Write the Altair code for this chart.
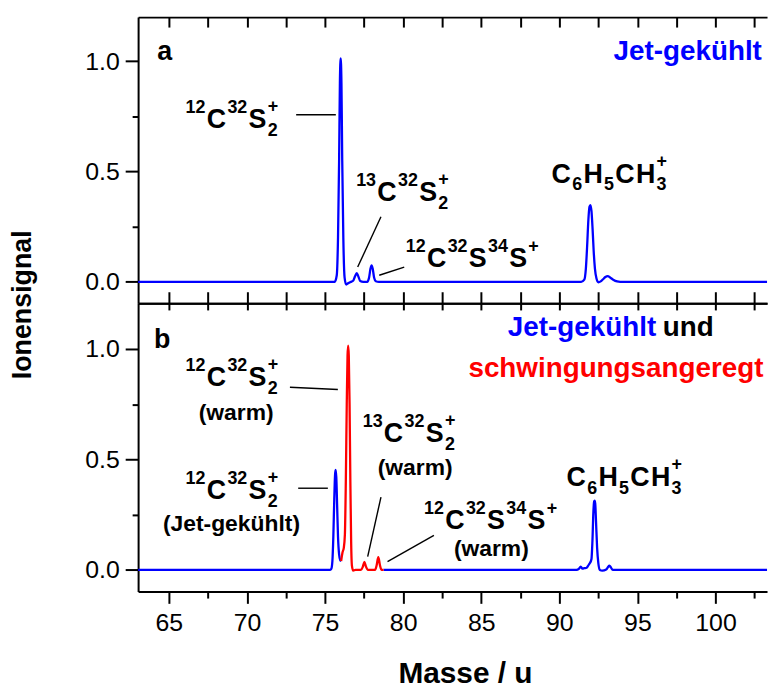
import altair as alt
import pandas as pd

FONT = "Liberation Sans"
BLUE = "#0000ff"
RED = "#ff0000"

# ---------------- data ----------------
# panel a : jet-cooled spectrum (mass / u, ion signal)
a_mass = [63.03, 70.0, 75.0, 75.62, 75.75, 75.83, 75.9, 75.95, 76.0, 76.05,
          76.1, 76.17, 76.25, 76.35, 76.5, 76.65, 76.8, 76.92, 77.03, 77.13,
          77.25, 77.45, 77.7, 77.82, 77.91, 77.98, 78.05, 78.14, 78.25, 78.45,
          82.0, 86.0, 90.0, 91.4, 91.6, 91.7, 91.78, 91.86, 91.93, 91.99,
          92.06, 92.13, 92.2, 92.28, 92.38, 92.5, 92.65, 92.8, 92.95, 93.1,
          93.25, 93.45, 93.7, 93.9, 97.0, 100.0, 103.3]
a_signal = [0.0, 0.0, 0.0, 0.0, 0.03, 0.2, 0.55, 0.9, 1.012, 0.9,
            0.55, 0.2, 0.02, -0.012, -0.005, 0.0, 0.005, 0.025, 0.04, 0.025,
            0.004, 0.0, 0.0, 0.02, 0.06, 0.075, 0.06, 0.02, 0.003, 0.0,
            0.0, 0.0, 0.0, 0.0, 0.01, 0.06, 0.16, 0.28, 0.34, 0.348,
            0.32, 0.24, 0.14, 0.06, 0.015, -0.002, 0.002, 0.012, 0.022, 0.026,
            0.02, 0.01, 0.002, 0.0, 0.0, 0.0, 0.0]

# panel b : jet-cooled part before the warm peaks
b_jet1_mass = [63.03, 70.0, 75.0, 75.3, 75.4, 75.47, 75.53, 75.59, 75.64, 75.675,
               75.72, 75.77, 75.83, 75.9, 75.97, 76.03]
b_jet1_signal = [0.0, 0.0, 0.0, 0.0, 0.005, 0.04, 0.15, 0.32, 0.43, 0.453,
                 0.42, 0.3, 0.15, 0.07, 0.045, 0.04]
# panel b : vibrationally excited (warm) part
b_warm_mass = [76.03, 76.12, 76.2, 76.27, 76.33, 76.39, 76.44, 76.48, 76.52, 76.57,
               76.62, 76.67, 76.72, 76.8, 76.95, 77.3, 77.42, 77.52, 77.62, 77.75,
               78.2, 78.3, 78.41, 78.52, 78.62, 78.75]
b_warm_signal = [0.04, 0.08, 0.1, 0.16, 0.4, 0.75, 0.97, 1.015, 0.97, 0.75,
                 0.4, 0.13, 0.02, -0.003, 0.0, 0.0, 0.015, 0.037, 0.015, 0.0,
                 0.0, 0.02, 0.058, 0.02, 0.0, 0.0]
# panel b : jet-cooled part after the warm peaks
b_jet2_mass = [78.75, 82.0, 86.0, 91.1, 91.25, 91.37, 91.48, 91.6, 91.75, 91.85,
               91.95, 92.06, 92.12, 92.18, 92.23, 92.26, 92.3, 92.35, 92.42, 92.5,
               92.6, 92.75, 93.0, 93.12, 93.21, 93.3, 93.42, 97.0, 100.0, 103.3]
b_jet2_signal = [0.0, 0.0, 0.0, 0.0, 0.005, 0.015, 0.006, 0.008, 0.01, 0.02,
                 0.03, 0.05, 0.13, 0.26, 0.31, 0.314, 0.3, 0.22, 0.1, 0.03,
                 0.0, -0.003, 0.002, 0.013, 0.02, 0.012, 0.0, 0.0, 0.0, 0.0]

x_major = [65, 70, 75, 80, 85, 90, 95, 100]
x_minor = [67.5, 72.5, 77.5, 82.5, 87.5, 92.5, 97.5, 102.5]
x_all = sorted(x_major + x_minor)
y_major = [0.0, 0.5, 1.0]
y_minor = [0.25, 0.75]

# ---------------- layout ----------------
X_DOMAIN = [63.03, 103.3]
Y_DOMAIN_A = [-0.097, 1.199]
Y_DOMAIN_B = [-0.097, 1.207]
W_PLOT = 633
H_A, H_B = 288, 290
xs = alt.Scale(domain=X_DOMAIN, nice=False, zero=False)
ys_a = alt.Scale(domain=Y_DOMAIN_A, nice=False, zero=False)
ys_b = alt.Scale(domain=Y_DOMAIN_B, nice=False, zero=False)
X_PER_PX = (X_DOMAIN[1] - X_DOMAIN[0]) / W_PLOT

GLYPH_W = {c: 0.556 for c in "0123456789"}
GLYPH_W.update({"C": 0.722, "S": 0.667, "H": 0.722, "+": 0.584})
MAIN, SMALL, SUP_DY, SUB_DY, GAP = 27, 18, 15, -8, 1.3   # dy in px, upward positive


def formula(x, y, segs):
    """Split a chemical formula into pieces with pixel offsets from its anchor."""
    rows, cur, sub_start = [], 0.0, 0.0
    for t, kind in segs:
        size = MAIN if kind == "n" else SMALL
        dy = {"n": 0, "sup": SUP_DY, "sub": SUB_DY, "stack": SUP_DY + 1}[kind]
        w = sum(GLYPH_W[c] for c in t) * size
        if kind == "stack":
            rows.append(dict(x=x, y=y, dx=sub_start, dy=dy, size=size, text=t))
            cur = max(cur, sub_start + w + GAP)
        else:
            rows.append(dict(x=x, y=y, dx=cur, dy=dy, size=size, text=t))
            if kind == "sub":
                sub_start = cur
            cur += w + GAP
    return rows


def plain(x, y, text, size):
    return [dict(x=x, y=y, dx=0, dy=0, size=size, text=text)]


def place(rows, ydom, h):
    """Turn the pixel offsets of the pieces into positions on the axes' scales."""
    y_per_px = (ydom[1] - ydom[0]) / h
    out = []
    for r in rows:
        out.append(dict(px=r["x"] + r["dx"] * X_PER_PX, py=r["y"] + r["dy"] * y_per_px,
                        size=r["size"], text=r["text"]))
    return pd.DataFrame(out)


CS2 = [("12", "sup"), ("C", "n"), ("32", "sup"), ("S", "n"), ("2", "sub"), ("+", "stack")]
C13 = [("13", "sup"), ("C", "n"), ("32", "sup"), ("S", "n"), ("2", "sub"), ("+", "stack")]
S34 = [("12", "sup"), ("C", "n"), ("32", "sup"), ("S", "n"), ("34", "sup"), ("S", "n"), ("+", "sup")]
TOL = [("C", "n"), ("6", "sub"), ("H", "n"), ("5", "sub"), ("C", "n"), ("H", "n"),
       ("3", "sub"), ("+", "stack")]

text_a = (plain(64.26, 1.004, "a", 27)
          + formula(66.07, 0.696, CS2)
          + formula(76.99, 0.367, C13)
          + formula(80.17, 0.067, S34)
          + formula(89.50, 0.450, TOL))
text_b = (plain(64.05, 1.004, "b", 27)
          + formula(66.07, 0.832, CS2) + plain(66.91, 0.679, "(warm)", 23)
          + formula(66.07, 0.322, CS2) + plain(64.62, 0.175, "(Jet-gekühlt)", 23)
          + formula(77.41, 0.580, C13) + plain(78.37, 0.432, "(warm)", 23)
          + formula(81.34, 0.186, S34) + plain(83.25, 0.064, "(warm)", 23)
          + formula(90.46, 0.382, TOL))

right_a = [dict(x=102.97, y=1.004, text="Jet-gekühlt", col=BLUE)]
right_b = [dict(x=96.2, y=1.057, text="Jet-gekühlt", col=BLUE),
           dict(x=99.89, y=1.057, text="und", col="black"),
           dict(x=103.07, y=0.874, text="schwingungsangeregt", col=RED)]

lead_a = [dict(x1=73.15, y1=0.757, x2=75.69, y2=0.757),
          dict(x1=78.58, y1=0.295, x2=77.09, y2=0.067),
          dict(x1=80.07, y1=0.067, x2=78.47, y2=0.030)]
lead_b = [dict(x1=72.75, y1=0.827, x2=75.82, y2=0.817),
          dict(x1=73.28, y1=0.370, x2=75.18, y2=0.370),
          dict(x1=78.58, y1=0.330, x2=77.73, y2=0.060),
          dict(x1=81.97, y1=0.157, x2=79.00, y2=0.038)]

AX = dict(domainColor="black", domainWidth=2, tickColor="black", tickWidth=2,
          grid=False, labelFont=FONT, labelFontSize=25, labelColor="black")
dummy = pd.DataFrame({"x": [70.0], "y": [0.0]})


def axis_layer(ys, xaxis=None, yaxis=None):
    return alt.Chart(dummy).mark_point(opacity=0).encode(
        x=alt.X("x:Q", scale=xs, axis=xaxis),
        y=alt.Y("y:Q", scale=ys, axis=yaxis),
    )


def y_axes(ys, with_title):
    if with_title:
        extra = dict(title="Ionensignal", titleFont=FONT, titleFontSize=27,
                     titleFontWeight="bold", titleColor="black", titleX=-116,
                     titleY=H_A + 1, titleAngle=270, titleAlign="center",
                     titleBaseline="middle")
    else:
        extra = dict(title=None)
    major = axis_layer(ys, yaxis=alt.Axis(orient="left", values=y_major, format=".1f",
                                          tickSize=13, labelPadding=6, **extra, **AX))
    minor = axis_layer(ys, yaxis=alt.Axis(orient="left", values=y_minor, labels=False,
                                          tickSize=6, domain=False, title=None, **AX))
    return [major, minor]


def text_layers(ys, ydom, h, rows, rights, leads):
    t = alt.Chart(place(rows, ydom, h)).mark_text(
        align="left", baseline="alphabetic", font=FONT, fontWeight="bold", color="black"
    ).encode(
        x=alt.X("px:Q", scale=xs, axis=None),
        y=alt.Y("py:Q", scale=ys, axis=None),
        size=alt.Size("size:Q", scale=None, legend=None),
        text="text:N",
    )
    r = alt.Chart(pd.DataFrame(rights)).mark_text(
        align="right", baseline="alphabetic", font=FONT, fontWeight="bold", fontSize=28
    ).encode(
        x=alt.X("x:Q", scale=xs, axis=None),
        y=alt.Y("y:Q", scale=ys, axis=None),
        color=alt.Color("col:N", scale=None, legend=None),
        text="text:N",
    )
    l = alt.Chart(pd.DataFrame(leads)).mark_rule(color="black", strokeWidth=1.4).encode(
        x=alt.X("x1:Q", scale=xs, axis=None),
        y=alt.Y("y1:Q", scale=ys, axis=None),
        x2="x2:Q", y2="y2:Q",
    )
    return [l, t, r]


# ---------------- panel a ----------------
line_a = alt.Chart(pd.DataFrame({"m": a_mass, "s": a_signal})).mark_line(
    color=BLUE, strokeWidth=2.3, interpolate="monotone"
).encode(
    x=alt.X("m:Q", scale=xs, axis=None),
    y=alt.Y("s:Q", scale=ys_a, axis=None),
)
top_a = axis_layer(ys_a, xaxis=alt.Axis(orient="bottom", offset=-H_A, values=x_all,
                                        labels=False, tickSize=10, title=None, **AX))
bot_a = axis_layer(ys_a, xaxis=alt.Axis(orient="top", offset=-H_A, values=x_all,
                                        labels=False, tickSize=11.6, title=None, **AX))
panel_a = alt.layer(
    *y_axes(ys_a, True), top_a, bot_a, line_a,
    *text_layers(ys_a, Y_DOMAIN_A, H_A, text_a, right_a, lead_a)
).resolve_axis(x="independent", y="independent").properties(width=W_PLOT, height=H_A)

# ---------------- panel b ----------------
jet_df = pd.concat([
    pd.DataFrame({"m": b_jet1_mass, "s": b_jet1_signal, "seg": "jet1"}),
    pd.DataFrame({"m": b_jet2_mass, "s": b_jet2_signal, "seg": "jet2"}),
])
line_b_jet = alt.Chart(jet_df).mark_line(
    color=BLUE, strokeWidth=2.3, interpolate="monotone"
).encode(
    x=alt.X("m:Q", scale=xs, axis=None),
    y=alt.Y("s:Q", scale=ys_b, axis=None),
    detail="seg:N",
)
line_b_warm = alt.Chart(pd.DataFrame({"m": b_warm_mass, "s": b_warm_signal})).mark_line(
    color=RED, strokeWidth=2.3, interpolate="monotone"
).encode(
    x=alt.X("m:Q", scale=xs, axis=None),
    y=alt.Y("s:Q", scale=ys_b, axis=None),
)
top_b = axis_layer(ys_b, xaxis=alt.Axis(orient="bottom", offset=-H_B, values=x_all,
                                        labels=False, tickSize=6.7, title=None, **AX))
bot_b = axis_layer(ys_b, xaxis=alt.Axis(
    orient="bottom", values=x_major, format="d", tickSize=12, labelPadding=7,
    title="Masse / u", titleFont=FONT, titleFontSize=30, titleFontWeight="bold",
    titleColor="black", titleX=329, titleY=92, titleAlign="center",
    titleBaseline="alphabetic", labelFlush=False, **AX))
bot_b_minor = axis_layer(ys_b, xaxis=alt.Axis(orient="bottom", values=x_minor, labels=False,
                                              tickSize=6.7, domain=False, title=None, **AX))
panel_b = alt.layer(
    *y_axes(ys_b, False), top_b, bot_b, bot_b_minor, line_b_jet, line_b_warm,
    *text_layers(ys_b, Y_DOMAIN_B, H_B, text_b, right_b, lead_b)
).resolve_axis(x="independent", y="independent").properties(width=W_PLOT, height=H_B)

chart = alt.vconcat(panel_a, panel_b, spacing=0, bounds="flush").properties(
    padding={"left": 9, "top": 14, "right": 0, "bottom": 0}
).configure_view(stroke=None)

chart.save("out.html", embed_options={"renderer": "svg", "actions": False})
